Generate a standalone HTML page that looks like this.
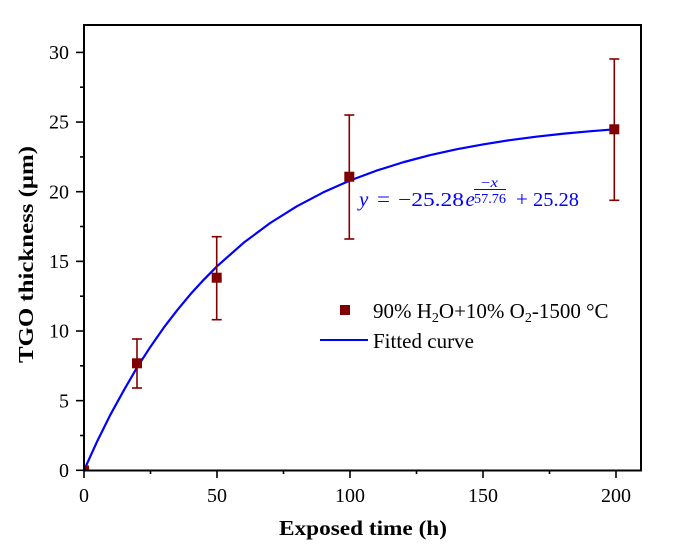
<!DOCTYPE html>
<html><head><meta charset="utf-8"><style>
html,body{margin:0;padding:0;background:#fff;}
svg{display:block;}
text{font-family:"Liberation Serif",serif;}
</style></head><body>
<svg width="693" height="555" viewBox="0 0 693 555" xmlns="http://www.w3.org/2000/svg">
<rect width="693" height="555" fill="#fff"/>
<!-- curve -->
<polyline fill="none" stroke="#0000ff" stroke-width="2.2" stroke-linejoin="round" points="84,470.3 97.3,441.1 110.6,414.3 123.9,390.2 137.2,367.2 150.5,346.7 163.8,327.6 177.1,310.3 190.4,294.3 203.7,279.8 217,266.3 243.6,242.8 270.2,223.0 296.8,206.3 323.4,192.3 350,180.5 376.6,170.6 403.2,162.25 429.8,155.2 456.4,149.35 483,144.4 509.6,140.2 536.2,136.7 562.8,133.75 589.4,131.3 616,129.2"/>
<!-- error bars -->
<g stroke="#800000" stroke-width="1.6" fill="none">
<line x1="137" y1="339" x2="137" y2="388"/><line x1="132" y1="339" x2="142" y2="339"/><line x1="132" y1="388" x2="142" y2="388"/>
<line x1="216.7" y1="236.7" x2="216.7" y2="319.7"/><line x1="211.7" y1="236.7" x2="221.7" y2="236.7"/><line x1="211.7" y1="319.7" x2="221.7" y2="319.7"/>
<line x1="349.3" y1="115" x2="349.3" y2="239"/><line x1="344.3" y1="115" x2="354.3" y2="115"/><line x1="344.3" y1="239" x2="354.3" y2="239"/>
<line x1="614.3" y1="59" x2="614.3" y2="200.3"/><line x1="609.3" y1="59" x2="619.3" y2="59"/><line x1="609.3" y1="200.3" x2="619.3" y2="200.3"/>
</g>
<g fill="#800000">
<rect x="132" y="358.3" width="10" height="10"/>
<rect x="211.7" y="272.7" width="10" height="10"/>
<rect x="344.3" y="171.7" width="10" height="10"/>
<rect x="609.3" y="124.3" width="10" height="10"/>
<rect x="84" y="465.5" width="5" height="5"/>
</g>
<!-- frame -->
<rect x="84" y="25" width="557" height="445.5" fill="none" stroke="#000" stroke-width="2"/>
<!-- y ticks -->
<g stroke="#000" stroke-width="1.6">
<line x1="76" y1="470.3" x2="84" y2="470.3"/>
<line x1="76" y1="400.65" x2="84" y2="400.65"/>
<line x1="76" y1="331" x2="84" y2="331"/>
<line x1="76" y1="261.35" x2="84" y2="261.35"/>
<line x1="76" y1="191.7" x2="84" y2="191.7"/>
<line x1="76" y1="122.05" x2="84" y2="122.05"/>
<line x1="76" y1="52.4" x2="84" y2="52.4"/>
<line x1="80" y1="435.5" x2="84" y2="435.5"/>
<line x1="80" y1="365.8" x2="84" y2="365.8"/>
<line x1="80" y1="296.2" x2="84" y2="296.2"/>
<line x1="80" y1="226.5" x2="84" y2="226.5"/>
<line x1="80" y1="156.9" x2="84" y2="156.9"/>
<line x1="80" y1="87.2" x2="84" y2="87.2"/>
<!-- x ticks -->
<line x1="84" y1="470" x2="84" y2="478"/>
<line x1="217" y1="470" x2="217" y2="478"/>
<line x1="350" y1="470" x2="350" y2="478"/>
<line x1="483" y1="470" x2="483" y2="478"/>
<line x1="616" y1="470" x2="616" y2="478"/>
<line x1="150.5" y1="470" x2="150.5" y2="474"/>
<line x1="283.5" y1="470" x2="283.5" y2="474"/>
<line x1="416.5" y1="470" x2="416.5" y2="474"/>
<line x1="549.5" y1="470" x2="549.5" y2="474"/>
</g>
<!-- y tick labels -->
<g font-size="20" text-anchor="end" fill="#000">
<text x="69" y="477">0</text>
<text x="69" y="407.4">5</text>
<text x="69" y="337.7">10</text>
<text x="69" y="268">15</text>
<text x="69" y="198.4">20</text>
<text x="69" y="128.7">25</text>
<text x="69" y="59.1">30</text>
</g>
<g font-size="20" text-anchor="middle" fill="#000">
<text x="84" y="502">0</text>
<text x="217" y="502">50</text>
<text x="350" y="502">100</text>
<text x="483" y="502">150</text>
<text x="616" y="502">200</text>
</g>
<!-- axis titles -->
<text x="279" y="535" font-size="21" font-weight="bold" textLength="168" lengthAdjust="spacingAndGlyphs">Exposed time (h)</text>
<text transform="translate(33,363) rotate(-90)" font-size="21" font-weight="bold" textLength="217" lengthAdjust="spacingAndGlyphs">TGO thickness (μm)</text>
<!-- legend -->
<rect x="340" y="305" width="10" height="10" fill="#800000"/>
<text x="373" y="318" font-size="21" fill="#000">90% H<tspan font-size="14" dy="4">2</tspan><tspan dy="-4">O+10% O</tspan><tspan font-size="14" dy="4">2</tspan><tspan dy="-4">-1500 °C</tspan></text>
<line x1="320" y1="340" x2="368" y2="340" stroke="#0000ff" stroke-width="2"/>
<text x="373" y="348" font-size="21" fill="#000">Fitted curve</text>
<!-- equation -->
<g fill="#0000ff">
<text x="359" y="206" font-size="21" font-style="italic">y</text>
<text x="377" y="206" font-size="21" textLength="13" lengthAdjust="spacingAndGlyphs">=</text>
<text x="398" y="206" font-size="20" textLength="66" lengthAdjust="spacingAndGlyphs">−25.28</text>
<text x="465.5" y="206" font-size="21" font-style="italic">e</text>
<text x="481" y="187" font-size="14" textLength="17" lengthAdjust="spacingAndGlyphs">−<tspan font-style="italic">x</tspan></text>
<rect x="474" y="189" width="32" height="1" />
<text x="474" y="203" font-size="14" textLength="32" lengthAdjust="spacingAndGlyphs">57.76</text>
<text x="516" y="206" font-size="21">+</text>
<text x="533" y="206" font-size="20" textLength="46" lengthAdjust="spacingAndGlyphs">25.28</text>
</g>
</svg>
</body></html>
